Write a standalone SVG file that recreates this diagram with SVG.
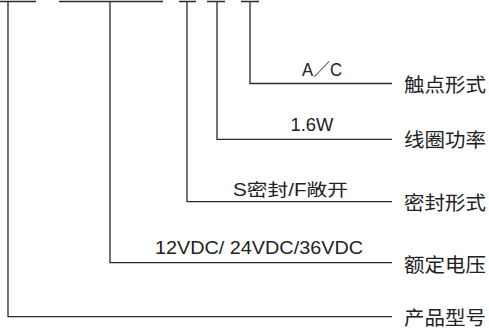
<svg xmlns="http://www.w3.org/2000/svg" width="489" height="329" viewBox="0 0 489 329">
<style>
.ln{fill:none;stroke:#2a2a2a;stroke-width:1.3}
.v{font-family:"Liberation Sans","Noto Sans CJK SC",Arial,sans-serif;font-size:17.5px;fill:#222}
.lb{font-family:"Noto Sans CJK SC",sans-serif;font-size:19.5px;fill:#222}
</style>
<rect width="489" height="329" fill="#fff"/>
<g id="connectors" class="ln">
<path d="M0 1.5H36M8 1.5V316.7H392"/>
<path d="M59 1.5H163M110 1.5V262.7H392"/>
<path d="M179 1.5H196M187 1.5V201.7H392"/>
<path d="M207 1.5H225M217 1.5V139.3H392"/>
<path d="M241 1.5H259M250 1.5V83.5H392"/>
</g>
<g id="contact">
<text class="v" x="302" y="75.7" textLength="40" lengthAdjust="spacingAndGlyphs">A／C</text>
<text class="lb" x="404" y="91.5" textLength="82" lengthAdjust="spacingAndGlyphs">触点形式</text>
</g>
<g id="coil">
<text class="v" x="290.5" y="130.7" textLength="43" lengthAdjust="spacingAndGlyphs">1.6W</text>
<text class="lb" x="404" y="146.5" textLength="82" lengthAdjust="spacingAndGlyphs">线圈功率</text>
</g>
<g id="seal">
<text class="v" x="233" y="196" textLength="115" lengthAdjust="spacingAndGlyphs">S密封/F敞开</text>
<text class="lb" x="404" y="209.5" textLength="82" lengthAdjust="spacingAndGlyphs">密封形式</text>
</g>
<g id="voltage">
<text class="v" x="155" y="254" textLength="208" lengthAdjust="spacingAndGlyphs">12VDC/ 24VDC/36VDC</text>
<text class="lb" x="404" y="271.5" textLength="82" lengthAdjust="spacingAndGlyphs">额定电压</text>
</g>
<g id="model">
<text class="lb" x="404" y="325" textLength="82" lengthAdjust="spacingAndGlyphs">产品型号</text>
</g>
</svg>
